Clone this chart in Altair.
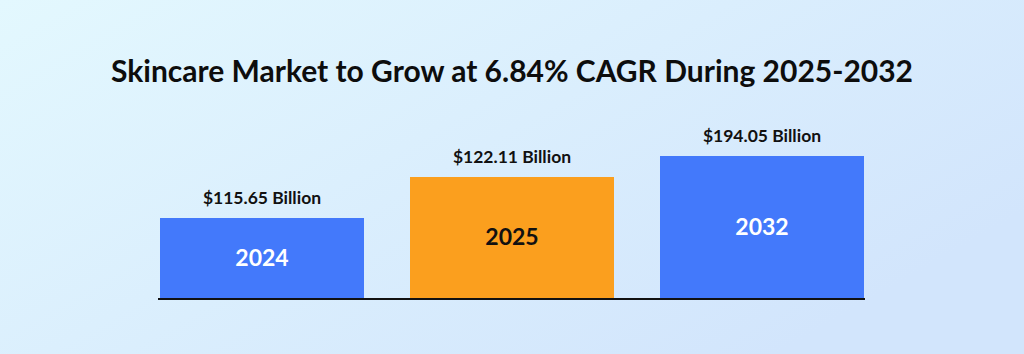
import altair as alt
import pandas as pd

years = ["2024", "2025", "2032"]
values = [115.65, 122.11, 194.05]
labels = ["$115.65 Billion", "$122.11 Billion", "$194.05 Billion"]
title_text = "Skincare Market to Grow at 6.84% CAGR During 2025-2032"
highlight_year = "2025"

df = pd.DataFrame({"year": years, "value": values, "label": labels})

FONT = "Lato"
W, H = 1024, 354
BASE_PX = 299

x_scale = alt.Scale(domain=years, range=[160, 864], paddingInner=0.184, paddingOuter=0)
# stylised (non-proportional) bar heights, as in the original graphic: piecewise scale
y_domain = [0] + sorted(values)
bar_range = [BASE_PX, 218, 177, 156]
mid_range = [(BASE_PX + r) / 2 for r in bar_range]
y_scale = alt.Scale(domain=y_domain, range=bar_range, zero=False, nice=False)
y_mid_scale = alt.Scale(domain=y_domain, range=mid_range, zero=False, nice=False)

bg = alt.Chart(pd.DataFrame({"a": [0]})).mark_rect(
    color=alt.LinearGradient(
        gradient="linear",
        stops=[alt.GradientStop(color="#e3f8fe", offset=0),
               alt.GradientStop(color="#d2e5fc", offset=1)],
        x1=0, x2=1, y1=0, y2=0.6,
    )
).encode(x=alt.value(0), x2=alt.value(W), y=alt.value(0), y2=alt.value(H))

title = alt.Chart(pd.DataFrame({"t": [title_text]})).mark_text(
    font=FONT, fontSize=30, fontWeight="bold", color="#0d0d0d", baseline="middle", align="center"
).encode(x=alt.value(W / 2), y=alt.value(73), text="t:N")

base = alt.Chart(df)

bars = base.mark_bar(cornerRadius=0).encode(
    x=alt.X("year:N", scale=x_scale, axis=None),
    y=alt.Y("value:Q", scale=y_scale, axis=None),
    y2=alt.datum(0),
    color=alt.condition(alt.datum.year == highlight_year, alt.value("#fb9f1e"), alt.value("#4379fb")),
)

value_labels = base.mark_text(
    font=FONT, fontSize=17.5, fontWeight="bold", color="#111111", baseline="middle", dy=-19
).encode(
    x=alt.X("year:N", scale=x_scale, axis=None),
    y=alt.Y("value:Q", scale=y_scale, axis=None),
    text="label:N",
)

baseline = alt.Chart(pd.DataFrame({"v": [0]})).mark_rule(color="#111111", strokeWidth=2).encode(
    x=alt.value(158), x2=alt.value(865),
    y=alt.Y("v:Q", scale=y_scale, axis=None),
)

main = alt.layer(bg, title, bars, value_labels, baseline)

year_labels = base.mark_text(
    font=FONT, fontSize=23, fontWeight="bold", baseline="middle"
).encode(
    x=alt.X("year:N", scale=x_scale, axis=None),
    y=alt.Y("value:Q", scale=y_mid_scale, axis=None),
    text="year:N",
    color=alt.condition(alt.datum.year == highlight_year, alt.value("#111111"), alt.value("#ffffff")),
)

chart = alt.layer(main, year_labels).resolve_scale(y="independent").properties(
    width=W, height=H, padding=0, autosize=alt.AutoSizeParams(type="none"),
).configure_view(stroke=None)

chart.save("out.html", embed_options={"renderer": "svg", "actions": False})
